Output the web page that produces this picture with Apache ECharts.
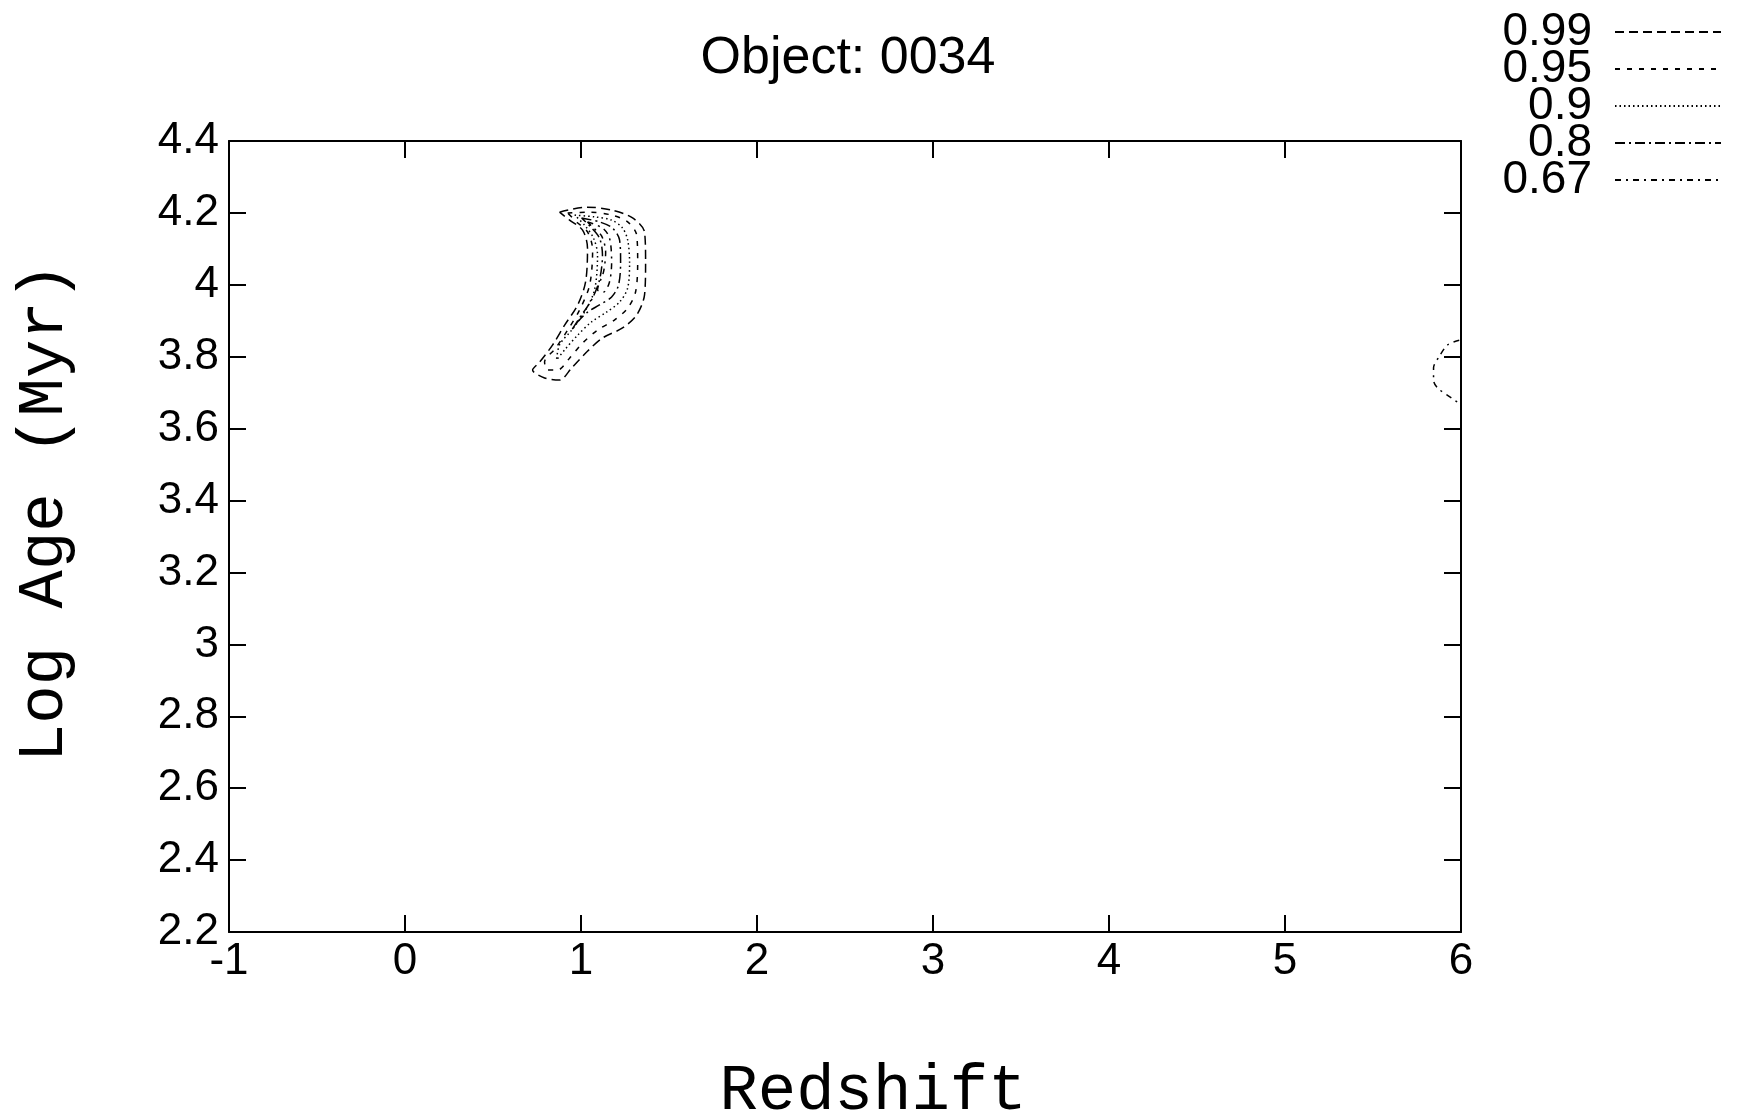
<!DOCTYPE html>
<html>
<head>
<meta charset="utf-8">
<title>Object: 0034</title>
<script src="https://cdn.jsdelivr.net/npm/echarts@6/dist/echarts.min.js"></script>
<style>
  html, body { margin: 0; padding: 0; background: #fff; }
  #chart { width: 1738px; height: 1116px; }
</style>
</head>
<body>
<div id="chart"></div>
<script>
// confidence levels, outermost first
const levels = ['0.99', '0.95', '0.9', '0.8', '0.67'];

// contour outlines: [redshift, log age]
const contour99 = [
  [0.878, 4.202], [1.032, 4.216], [1.174, 4.208], [1.293, 4.186], [1.361, 4.147],
  [1.367, 4.063], [1.361, 3.972], [1.316, 3.916], [1.236, 3.880], [1.122, 3.852],
  [1.032, 3.813], [0.947, 3.769], [0.878, 3.735], [0.793, 3.741], [0.725, 3.763],
  [0.765, 3.785], [0.839, 3.833], [0.907, 3.888], [0.981, 3.944], [1.026, 4.008],
  [1.037, 4.102], [1.009, 4.152], [0.935, 4.180], [0.878, 4.202]
];
const contour95 = [
  [0.924, 4.200], [1.049, 4.202], [1.174, 4.194], [1.265, 4.175], [1.316, 4.139],
  [1.322, 4.063], [1.310, 3.980], [1.265, 3.935], [1.190, 3.902], [1.094, 3.874],
  [1.009, 3.838], [0.935, 3.796], [0.867, 3.763], [0.810, 3.763], [0.793, 3.785],
  [0.856, 3.824], [0.924, 3.874], [0.992, 3.930], [1.049, 3.999], [1.066, 4.097],
  [1.037, 4.147], [0.975, 4.175], [0.924, 4.200]
];
const contour90 = [
  [0.964, 4.194], [1.077, 4.189], [1.174, 4.180], [1.236, 4.158], [1.265, 4.125],
  [1.276, 4.063], [1.265, 3.991], [1.219, 3.952], [1.145, 3.924], [1.060, 3.897],
  [0.981, 3.860], [0.907, 3.819], [0.861, 3.791], [0.878, 3.833], [0.947, 3.874],
  [1.020, 3.924], [1.077, 3.986], [1.094, 4.083], [1.071, 4.130], [1.020, 4.166],
  [0.964, 4.194]
];
const contour80 = [
  [1.003, 4.186], [1.105, 4.175], [1.179, 4.158], [1.219, 4.125], [1.225, 4.063],
  [1.213, 3.999], [1.174, 3.966], [1.105, 3.944], [1.037, 3.924], [0.981, 3.897],
  [0.947, 3.874], [0.992, 3.908], [1.060, 3.958], [1.105, 4.013], [1.122, 4.083],
  [1.105, 4.130], [1.049, 4.164], [1.003, 4.186]
];
const contour67 = [
  [1.037, 4.175], [1.122, 4.158], [1.162, 4.130], [1.174, 4.063], [1.162, 4.008],
  [1.128, 3.980], [1.094, 3.986], [1.128, 4.036], [1.140, 4.091], [1.117, 4.136],
  [1.071, 4.158], [1.037, 4.175]
];
// small piece of contour at the right edge
const contourEdge = [
  [5.990, 3.846], [5.924, 3.833], [5.878, 3.802], [5.844, 3.769], [5.844, 3.735],
  [5.867, 3.713], [5.946, 3.685], [5.998, 3.668]
];

const dashes = {
  '0.99': [9, 5],
  '0.95': [5, 7],
  '0.9': [1.5, 3],
  '0.8': [10, 4, 2, 4],
  '0.67': [6, 5, 2, 5]
};

const chart = echarts.init(document.getElementById('chart'));

function contourSeries(name, data) {
  return {
    name: name,
    type: 'line',
    data: data,
    symbol: 'none',
    smooth: 0.3,
    clip: false,
    lineStyle: { color: '#000', width: 1.5, type: dashes[name] }
  };
}

const tickFont = { fontFamily: '"Liberation Sans", Arial, sans-serif', fontSize: 44, color: '#000' };
const titleFont = { fontFamily: '"Liberation Mono", "DejaVu Sans Mono", monospace', fontSize: 64, color: '#000' };
const frame = { onZero: false, lineStyle: { color: '#000', width: 2 } };
const ticks = { inside: true, length: 17, lineStyle: { color: '#000', width: 2 } };

const option = {
  animation: false,
  backgroundColor: '#fff',
  title: {
    text: 'Object: 0034',
    left: 843,
    textAlign: 'center',
    top: 28,
    textStyle: { fontFamily: '"Liberation Sans", Arial, sans-serif', fontSize: 52, fontWeight: 'normal', color: '#000' }
  },
  legend: {
    orient: 'vertical',
    right: 11,
    top: 4,
    align: 'right',
    itemGap: -9,
    itemWidth: 106,
    itemHeight: 14,
    data: levels,
    itemStyle: { color: 'rgba(0,0,0,0)', borderWidth: 0 },
    textStyle: {
      fontFamily: '"Liberation Sans", Arial, sans-serif',
      fontSize: 46,
      color: '#000',
      width: 100,
      align: 'right',
      lineHeight: 34,
      padding: [0, 18, 0, 0]
    }
  },
  grid: { left: 229, top: 141, right: 277, bottom: 184, containLabel: false, outerBoundsMode: 'none' },
  xAxis: [
    {
      type: 'value',
      min: -1,
      max: 6,
      interval: 1,
      name: 'Redshift',
      nameLocation: 'middle',
      nameGap: 128,
      nameTextStyle: Object.assign({}, titleFont, { padding: [0, 0, 0, 56] }),
      axisLine: frame,
      axisTick: ticks,
      axisLabel: Object.assign({ margin: 8 }, tickFont),
      splitLine: { show: false }
    },
    {
      type: 'value',
      position: 'top',
      min: -1,
      max: 6,
      interval: 1,
      axisLine: frame,
      axisTick: ticks,
      axisLabel: { show: false },
      splitLine: { show: false }
    }
  ],
  yAxis: [
    {
      type: 'value',
      min: 2.2,
      max: 4.4,
      interval: 0.2,
      name: 'Log Age (Myr)',
      nameLocation: 'middle',
      nameGap: 152,
      nameTextStyle: Object.assign({}, titleFont, { padding: [0, 0, 0, 48] }),
      axisLine: frame,
      axisTick: ticks,
      axisLabel: Object.assign({
        margin: 10,
        formatter: function (v) { return String(Math.round(v * 10) / 10); }
      }, tickFont),
      splitLine: { show: false }
    },
    {
      type: 'value',
      position: 'right',
      min: 2.2,
      max: 4.4,
      interval: 0.2,
      axisLine: frame,
      axisTick: ticks,
      axisLabel: { show: false },
      splitLine: { show: false }
    }
  ],
  series: [
    contourSeries('0.99', contour99),
    contourSeries('0.95', contour95),
    contourSeries('0.9', contour90),
    contourSeries('0.8', contour80),
    contourSeries('0.67', contour67),
    contourSeries('0.67', contourEdge)
  ]
};

chart.setOption(option);
</script>
</body>
</html>
